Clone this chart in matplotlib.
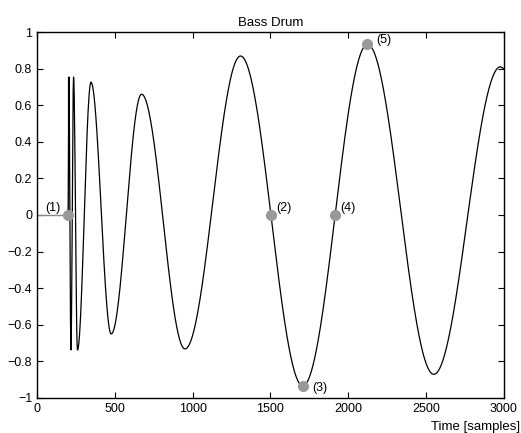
import numpy as np
import matplotlib
matplotlib.use("Agg")
import matplotlib.pyplot as plt

plt.rcParams['font.family'] = ['Liberation Sans', 'DejaVu Sans']

# extrema of the waveform (sample, amplitude)
peak_t = [200, 205, 218, 235, 260, 347, 477, 672, 951, 1308, 1708, 2124, 2550, 2978]
peak_v = [0.0, 0.754, -0.738, 0.754, -0.738, 0.725, -0.65, 0.66, -0.732, 0.869, -0.934, 0.933, -0.871, 0.81]
end_t, end_v = 3000, 0.80

# onset (silent part before the hit)
silent_t = [0, 200]
silent_v = [0.0, 0.0]

# marked points
mark_t = [199, 1503, 1708, 1916, 2124]
mark_v = [0.0, 0.0, -0.934, 0.0, 0.933]
mark_lbl = ['(1)', '(2)', '(3)', '(4)', '(5)']

# build smooth curve: half cosine arcs between consecutive extrema
xs, ys = [], []
for i in range(len(peak_t) - 1):
    a, b = peak_v[i], peak_v[i + 1]
    n = max(int((peak_t[i + 1] - peak_t[i]) / 2), 6)
    s = np.linspace(0, 1, n)
    xs.append(peak_t[i] + s * (peak_t[i + 1] - peak_t[i]))
    ys.append((a + b) / 2 + (a - b) / 2 * np.cos(np.pi * s))
xs.append(np.array([end_t]))
ys.append(np.array([end_v]))
xs = np.concatenate(xs)
ys = np.concatenate(ys)

fig = plt.figure(figsize=(5.21, 4.33), dpi=100)
ax = fig.add_axes([0.071, 0.081, 0.896, 0.845])

ax.plot(silent_t, silent_v, color='#888888', lw=1.0)
ax.plot([200, 200], [0, 0.754], color='#888888', lw=1.0)
ax.plot(xs, ys, color='black', lw=0.9)
ax.plot(mark_t, mark_v, 'o', color='#999999', ms=7, mec='#999999')

offs = [(-16, 3), (4, 3), (7, -4), (4, 3), (6, 1)]
for t, v, l, o in zip(mark_t, mark_v, mark_lbl, offs):
    ax.annotate(l, (t, v), xytext=o, textcoords='offset points', fontsize=9)

ax.set_xlim(0, 3000)
ax.set_ylim(-1, 1)
ax.set_xticks(np.arange(0, 3001, 500))
ax.set_yticks(np.arange(-1, 1.01, 0.2))
ax.set_yticklabels(['−1', '−0.8', '−0.6', '−0.4', '−0.2', '0', '0.2', '0.4', '0.6', '0.8', '1'])
ax.tick_params(direction='in', top=True, right=True, labelsize=9, length=4, width=0.8)
for sp in ax.spines.values():
    sp.set_linewidth(1.0)

ax.set_title('Bass Drum', fontsize=9.5, pad=4)
ax.set_xlabel('Time [samples]', fontsize=9.5, labelpad=0)
ax.xaxis.set_label_coords(1.036, -0.063)
ax.xaxis.label.set_ha('right')

fig.savefig('out.png', dpi=100)
